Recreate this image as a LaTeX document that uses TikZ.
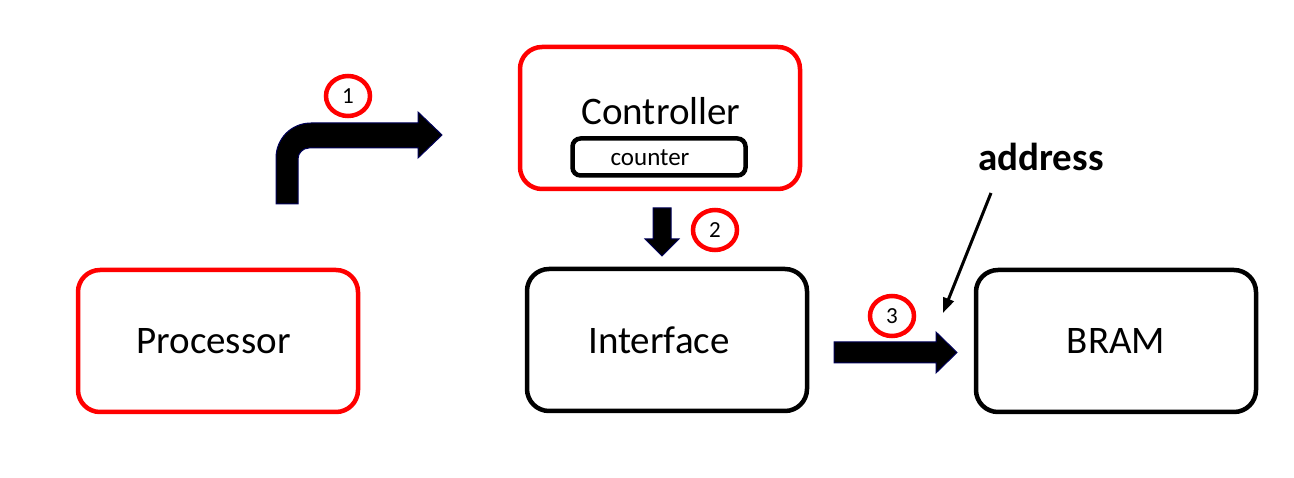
\documentclass[tikz,border=0pt]{standalone}
\usepackage{fontspec}
\setmainfont{Carlito}
\usepackage{tikz}
\usetikzlibrary{arrows.meta, positioning, shapes.geometric}

\begin{document}
\begin{tikzpicture}[
			x=1pt, y=-1pt,
			every node/.style={font=\fontsize{39}{47}\selectfont, inner sep=0pt},
			box/.style={
				rectangle, draw=black, line width=4.5pt, rounded corners=22pt,
				minimum width=280pt, minimum height=142pt
			},
			redbox/.style={box, draw=red},
			smallbox/.style={
				rectangle, draw=black, line width=4.5pt, rounded corners=8pt,
				minimum width=173pt, minimum height=37pt
			},
			num/.style={
				ellipse, draw=red, line width=4.5pt,
				minimum width=44pt, minimum height=40pt,
				font=\fontsize{23}{28}\selectfont
			},
			blockarrow/.style={
				fill=black, draw=blue!35!black, line width=1pt
			},
			pointer/.style={
				-{Triangle[length=15pt,width=11pt]},
				line width=3pt
			}
			]
			\useasboundingbox (0,0) rectangle (1294,478);
			
			\node[redbox] (proc) at (218,341) {\hspace*{-9pt}Processor};
			\node[redbox] (ctrl) at (660,118) {};
			\node (ctrltxt) at (661,111) {Controller};
			\node[smallbox] (cnt) at (659,157) {};
			\node[font=\fontsize{25}{30}\selectfont] (cnttxt) at (650,158) {counter};
			\node[box] (iface) at (667,340) {\hspace*{-16pt}\raisebox{-5pt}{Interface}};
			\node[box] (bram) at (1116,341) {BRAM};
			
			\node[num] (n1) at (348,96) {1};
			\node[num] (n2) at (715,230) {2};
			\node[num] (n3) at (892,316) {3};
			
			\node (addr) at (1041,157) {\bfseries address};
			\coordinate (addrfoot) at (991,193);
			\coordinate (addrtip) at (943,313);
			
			% block arrows
			\draw[blockarrow] (276,204) -- (276,158) .. controls (276,139) and (291,123) .. (311,123) -- (418,123) -- (418,112) -- (442,135) -- (418,158) -- (418,148) -- (309,148) .. controls (303,148) and (298,153) .. (298,159) -- (298,204) -- cycle;
			\draw[blockarrow] (653,208) -- (671,208) -- (671,239) -- (679,239) -- (662,256) -- (645,239) -- (653,239) -- cycle;
			\draw[blockarrow] (834,342) -- (936,342) -- (936,332) -- (957,352.5) -- (936,373) -- (936,363) -- (834,363) -- cycle;
			
			\draw[pointer] (addrfoot) -- (addrtip);
			
		\end{tikzpicture}
\end{document}
